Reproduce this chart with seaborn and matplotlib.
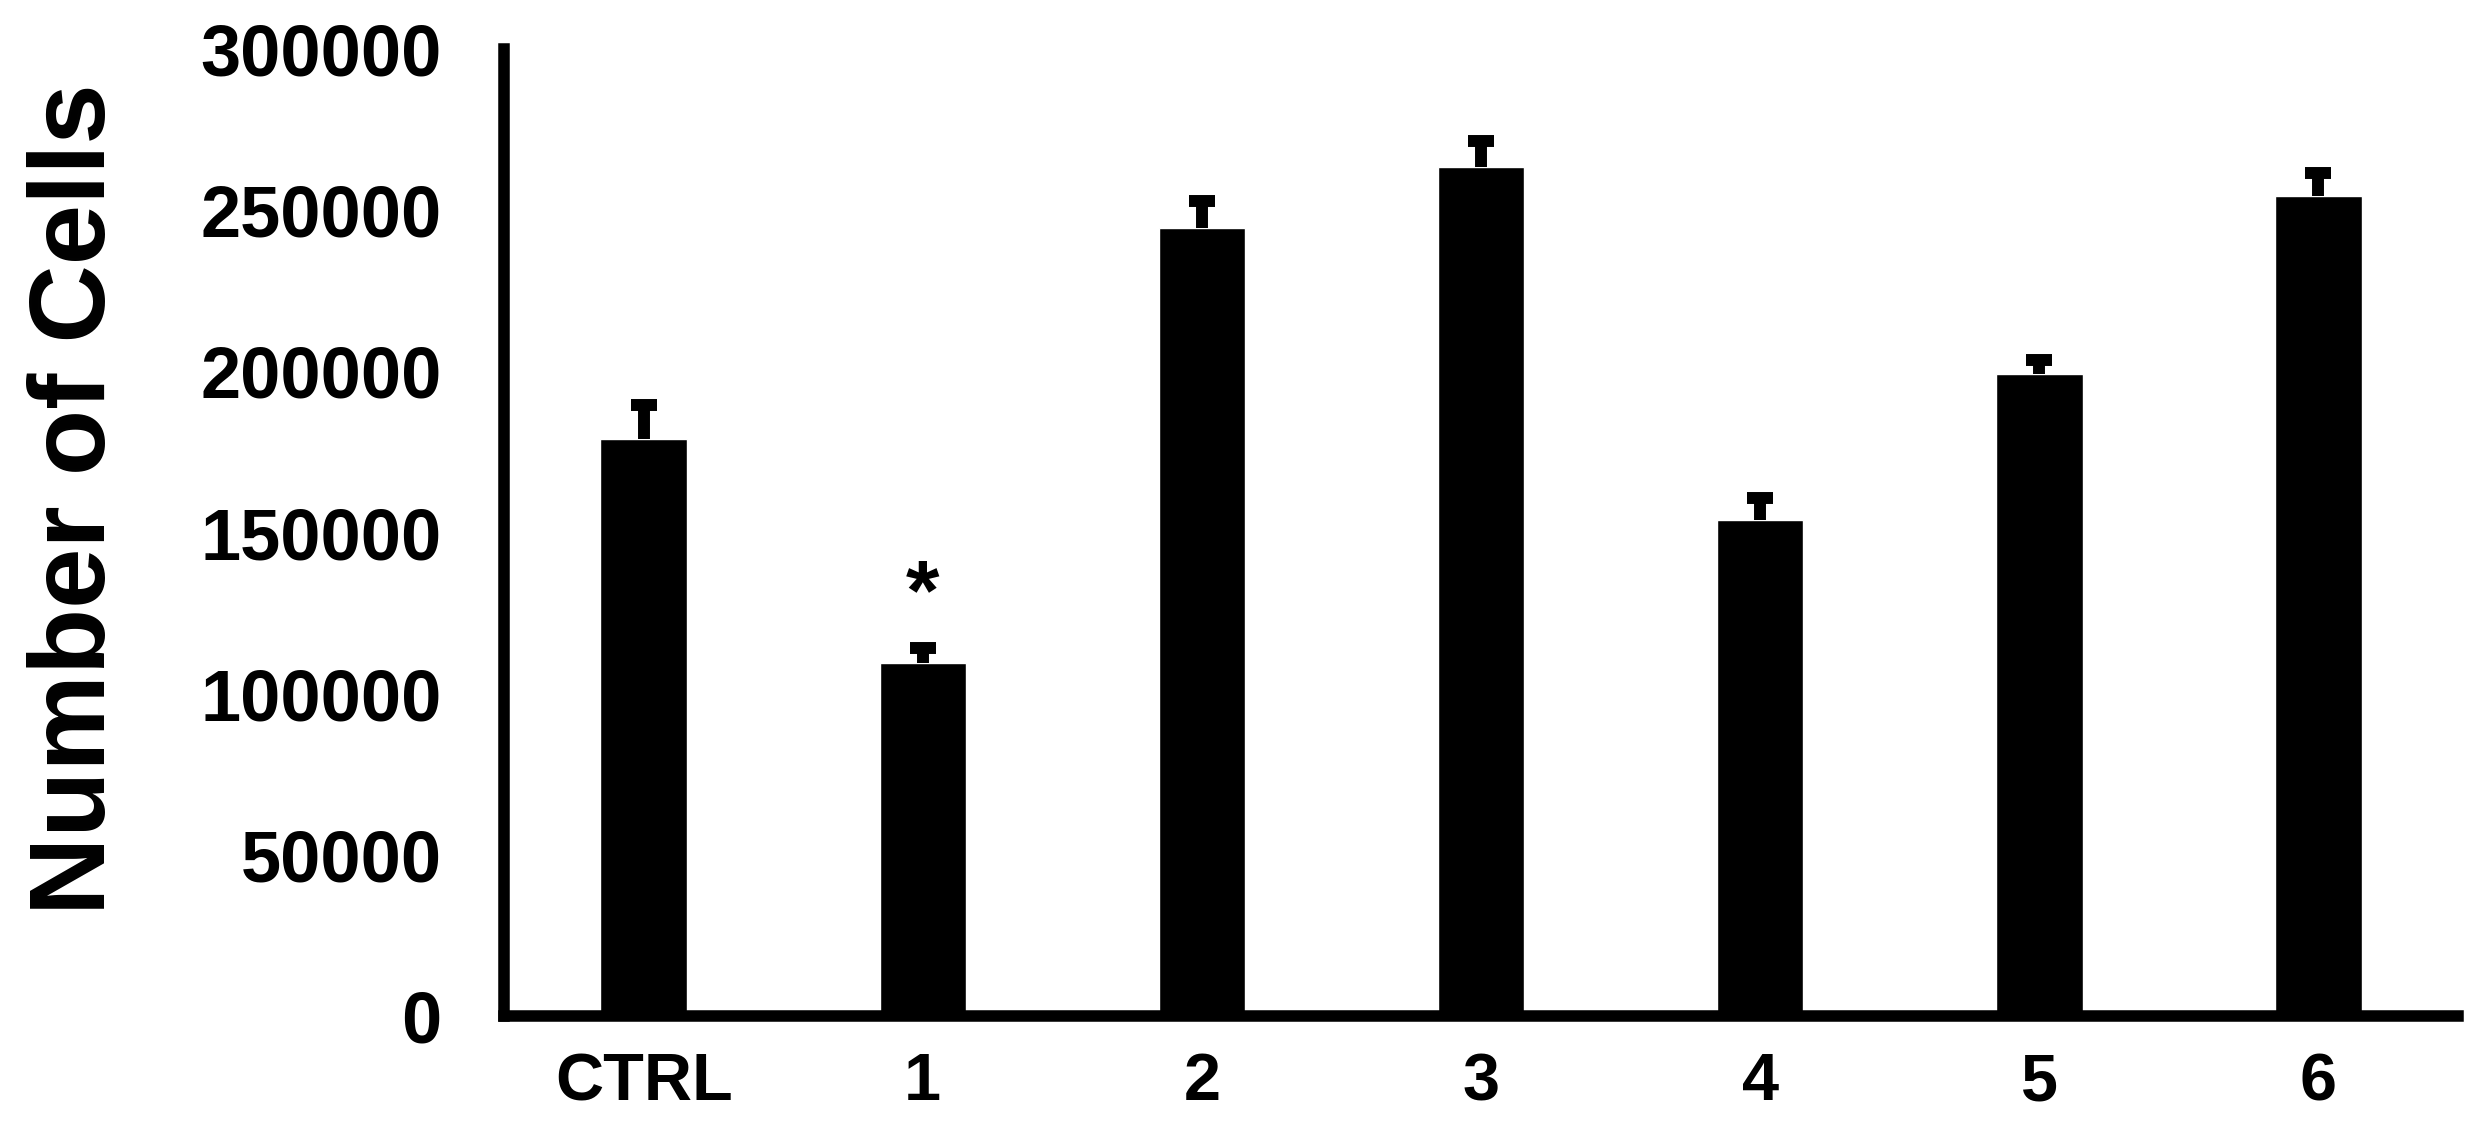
import pandas as pd
import matplotlib
matplotlib.use("Agg")
import matplotlib.pyplot as plt
import seaborn as sns

# values
groups = ["CTRL", "1", "2", "3", "4", "5", "6"]
cell_counts = [178900, 109600, 244500, 263300, 153900, 199100, 254500]
cell_sem = [10700, 4500, 8200, 8300, 6900, 4400, 6900]
signif_group = "1"
yticks = [0, 50000, 100000, 150000, 200000, 250000, 300000]

sns.set_style("white")
plt.rcParams['font.family'] = ['Liberation Sans', 'DejaVu Sans']
plt.rcParams['font.weight'] = 'bold'
plt.rcParams['text.color'] = 'black'
plt.rcParams['xtick.color'] = 'black'
plt.rcParams['ytick.color'] = 'black'
plt.rcParams['axes.labelcolor'] = 'black'

data = pd.DataFrame({'group': groups, 'cells': cell_counts, 'sem': cell_sem})

fig = plt.figure(figsize=(24.76, 11.36), dpi=100)
ax = fig.add_axes([0.2036, 0.1056, 0.7891, 0.8513])

sns.barplot(data=data, x='group', y='cells', color='black',
            saturation=1, width=0.31, errorbar=None, ax=ax)

# one-sided (upper) error bars
_, caps, _ = ax.errorbar(x=range(len(groups)), y=data['cells'],
                         yerr=[[0] * len(groups), data['sem']],
                         fmt='none', ecolor='black', elinewidth=8.6,
                         capsize=9.5, capthick=8.6)
caps[0].set_visible(False)  # no cap sitting on the bar top

# significance marker
i = groups.index(signif_group)
ax.annotate('*', xy=(i, cell_counts[i] + cell_sem[i]),
            xytext=(0, 8), textcoords='offset points',
            ha='center', va='bottom', fontsize=62, fontweight='bold')

ax.set_xlim(-0.5, len(groups) - 0.5)
ax.set_ylim(0, 300000)
ax.set_yticks(yticks)
ax.set_yticklabels([str(t) for t in yticks])

sns.despine(ax=ax)
for side in ['left', 'bottom']:
    ax.spines[side].set_linewidth(8.3)
    ax.spines[side].set_color('black')

ax.tick_params(axis='y', length=0, pad=45, labelsize=52)
ax.tick_params(axis='x', length=0, pad=26, labelsize=48)
for lab in ax.get_xticklabels() + ax.get_yticklabels():
    lab.set_fontweight('bold')

ax.set_xlabel('')
ax.set_ylabel('Number of Cells', fontsize=78, fontweight='bold')
ax.yaxis.set_label_coords(-0.193, 0.534)

fig.savefig('out.png', dpi=100)
